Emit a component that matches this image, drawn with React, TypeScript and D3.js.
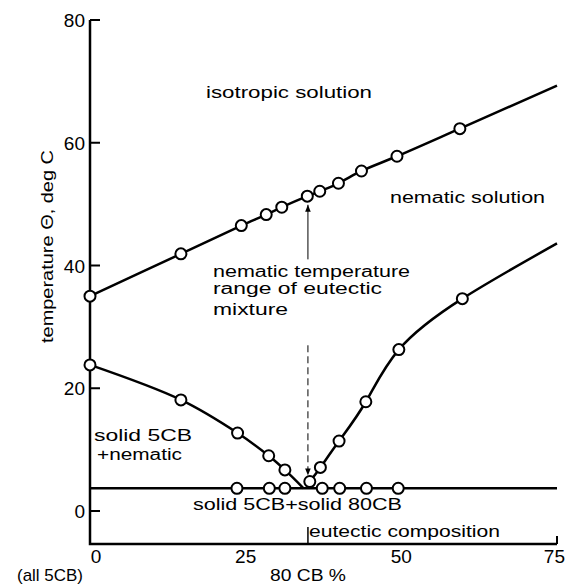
import * as d3 from "d3";

// upper curve: isotropic / nematic boundary
const upperX = [0, 14.6, 24.3, 28.3, 30.8, 34.9, 36.9, 39.9, 43.6, 49.3, 59.4];
const upperY = [35, 41.9, 46.5, 48.3, 49.5, 51.3, 52.1, 53.4, 55.4, 57.8, 62.3];
const upperEnd = [75, 69.3];

// liquidus of 5CB (left branch)
const leftX = [0, 14.6, 23.7, 28.7, 31.3];
const leftY = [23.8, 18.1, 12.7, 9.0, 6.7];
const leftEnd = [34.3, 3.7];

// liquidus of 8OCB (right branch)
const rightX = [35.3, 37.0, 40.0, 44.3, 49.6, 59.8];
const rightY = [4.8, 7.1, 11.4, 17.8, 26.3, 34.6];
const rightEnd = [75, 43.6];

// solidus (eutectic line)
const solidusT = 3.7;
const solidusX = [23.6, 28.8, 31.3, 37.3, 40.1, 44.4, 49.5];

const eutecticX = 35;
const yTicks = [0, 20, 40, 60, 80];
const xTicks = [0, 25, 50, 75];

const W = 566;
const H = 585;
const FONT = "'Liberation Sans', Arial, sans-serif";

export default function App() {
  const x = d3.scaleLinear().domain([0, 75]).range([90, 557]);
  const y = d3.scaleLinear().domain([0, 80]).range([511, 20]);
  const yBottom = 544;

  const line = d3
    .line<number[]>()
    .x((d) => x(d[0]))
    .y((d) => y(d[1]))
    .curve(d3.curveCatmullRom.alpha(0.5));
  const smooth = d3
    .line<number[]>()
    .x((d) => x(d[0]))
    .y((d) => y(d[1]))
    .curve(d3.curveNatural);
  const straight = d3
    .line<number[]>()
    .x((d) => x(d[0]))
    .y((d) => y(d[1]));

  const upperPts = upperX.map((v, i) => [v, upperY[i]]).concat([upperEnd]);
  const leftPts = leftX.map((v, i) => [v, leftY[i]]).concat([leftEnd]);
  const rightPts = rightX.map((v, i) => [v, rightY[i]]).concat([rightEnd]);

  const markers = [
    ...upperX.map((v, i) => [v, upperY[i]]),
    ...leftX.map((v, i) => [v, leftY[i]]),
    ...solidusX.map((v) => [v, solidusT]),
    ...rightX.map((v, i) => [v, rightY[i]]),
  ];

  const ex = x(eutecticX);
  const text = (
    s: string,
    tx: number,
    ty: number,
    len: number,
    size = 16
  ) => (
    <text
      x={tx}
      y={ty}
      fontSize={size}
      textLength={len}
      lengthAdjust="spacingAndGlyphs"
    >
      {s}
    </text>
  );

  return (
    <svg
      width={W}
      height={H}
      style={{ position: "absolute", left: 0, top: 0, background: "#fff" }}
      fontFamily={FONT}
    >
      <defs>
        <marker
          id="ah"
          viewBox="0 0 10 10"
          refX="10"
          refY="5"
          markerWidth="7"
          markerHeight="9"
          orient="auto"
          markerUnits="userSpaceOnUse"
        >
          <path d="M0,1 L10,5 L0,9 Z" fill="#000" />
        </marker>
      </defs>

      {/* axes */}
      <path
        d={`M${x(0)},${y(80)} V${yBottom} H${x(75)}`}
        fill="none"
        stroke="#000"
        strokeWidth={2.5}
      />
      {yTicks.map((t) => (
        <g key={t}>
          <line x1={x(0)} x2={x(0) + 10} y1={y(t)} y2={y(t)} stroke="#000" strokeWidth={2} />
          <text x={85} y={y(t) + 7} textAnchor="end" fontSize={19}>
            {t}
          </text>
        </g>
      ))}
      <line x1={x(75)} x2={x(75)} y1={yBottom} y2={yBottom - 8} stroke="#000" strokeWidth={2} />
      {xTicks.map((t) => (
        <text
          key={t}
          x={t === 75 ? 565 : x(t) + (t === 0 ? 6 : 0)}
          y={563}
          textAnchor={t === 75 ? "end" : "middle"}
          fontSize={19}
        >
          {t}
        </text>
      ))}

      {/* eutectic composition marker */}
      <line x1={ex} x2={ex} y1={yBottom} y2={527} stroke="#000" strokeWidth={1.5} />

      {/* phase boundaries */}
      <path d={straight([[0, solidusT], [75, solidusT]]) || ""} fill="none" stroke="#000" strokeWidth={2.5} />
      <path d={line(upperPts) || ""} fill="none" stroke="#000" strokeWidth={2.5} />
      <path d={line(leftPts) || ""} fill="none" stroke="#000" strokeWidth={2.5} />
      <path d={smooth(rightPts) || ""} fill="none" stroke="#000" strokeWidth={2.5} />

      {/* nematic range arrows */}
      <line
        x1={ex}
        x2={ex}
        y1={y(41)}
        y2={y(49.9)}
        stroke="#000"
        strokeWidth={1}
        markerEnd="url(#ah)"
      />
      <line
        x1={ex}
        x2={ex}
        y1={y(27)}
        y2={y(5.8)}
        stroke="#000"
        strokeWidth={1}
        strokeDasharray="7,4"
        markerEnd="url(#ah)"
      />

      {markers.map((d, i) => (
        <circle
          key={i}
          cx={x(d[0])}
          cy={y(d[1])}
          r={5.5}
          fill="#fff"
          stroke="#000"
          strokeWidth={2}
        />
      ))}

      {/* labels */}
      {text("isotropic solution", 206, 98, 166)}
      {text("nematic solution", 390, 203, 155)}
      {text("nematic temperature", 213, 277, 197)}
      {text("range of eutectic", 213, 294, 169)}
      {text("mixture", 213, 315, 75)}
      {text("solid 5CB", 94, 441, 98)}
      {text("+nematic", 97, 460, 85)}
      {text("solid  5CB+solid 80CB", 193, 510, 209)}
      {text("eutectic composition", 309, 537, 191)}
      {text("(all 5CB)", 17, 581, 66, 17)}
      {text("80 CB %", 270, 581, 76, 17)}
      <text
        transform="translate(53,343) rotate(-90)"
        fontSize={16}
        textLength={193}
        lengthAdjust="spacingAndGlyphs"
      >
        temperature Θ, deg C
      </text>
    </svg>
  );
}
